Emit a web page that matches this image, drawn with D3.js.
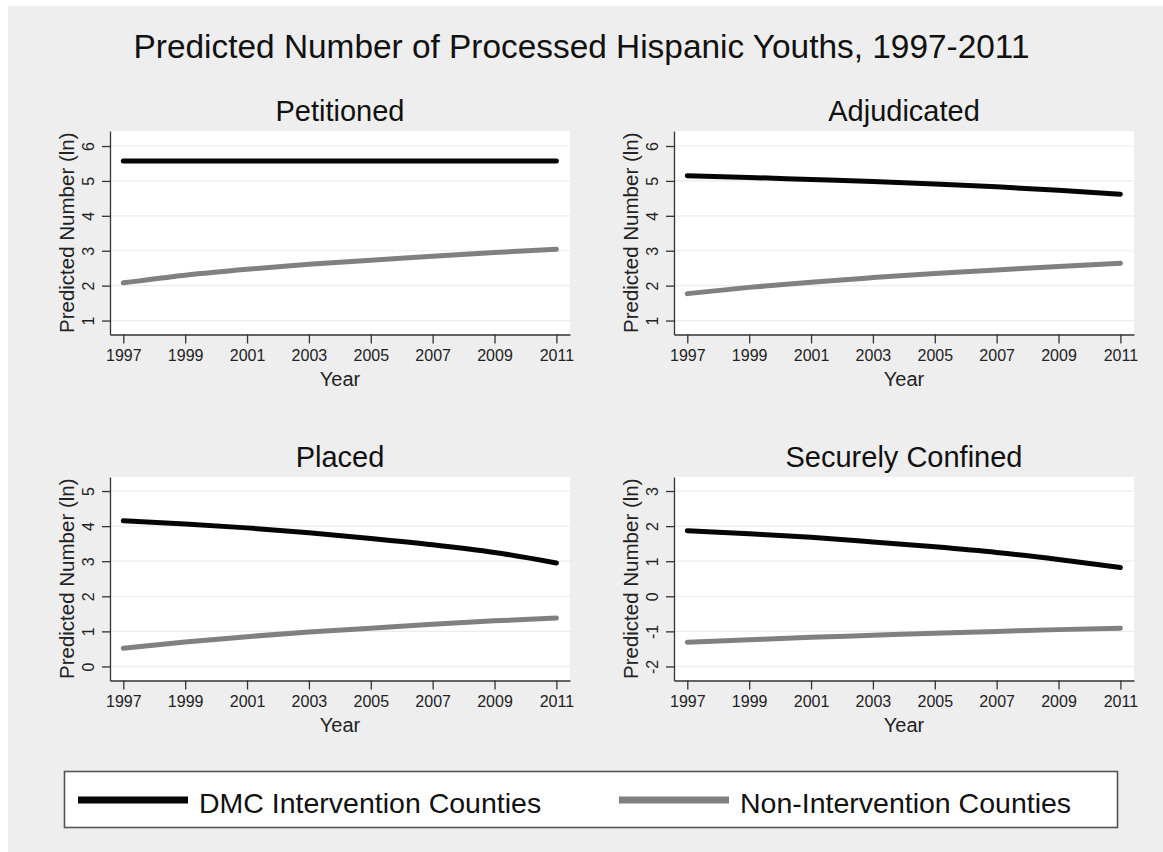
<!DOCTYPE html>
<html>
<head>
<meta charset="utf-8">
<script src="https://d3js.org/d3.v7.min.js"></script>
<style>
  body { margin: 0; background: #ffffff; }
  svg { display: block; font-family: "Liberation Sans", Arial, Helvetica, sans-serif; }
</style>
</head>
<body>
<svg width="1163" height="852"></svg>

<script>
// values (ln of predicted counts), every second year
var years = [1997, 1999, 2001, 2003, 2005, 2007, 2009, 2011];
var panelTitles = ["Petitioned", "Adjudicated", "Placed", "Securely Confined"];

var dmcPetitioned = [5.57, 5.57, 5.57, 5.57, 5.57, 5.57, 5.57, 5.57];
var nonPetitioned = [2.08, 2.30, 2.47, 2.61, 2.73, 2.84, 2.95, 3.04];
var dmcAdjudicated = [5.15, 5.10, 5.04, 4.98, 4.91, 4.83, 4.73, 4.62];
var nonAdjudicated = [1.77, 1.95, 2.10, 2.23, 2.35, 2.45, 2.55, 2.64];
var dmcPlaced = [4.15, 4.06, 3.95, 3.81, 3.65, 3.47, 3.25, 2.95];
var nonPlaced = [0.52, 0.70, 0.85, 0.98, 1.09, 1.20, 1.30, 1.38];
var dmcConfined = [1.87, 1.78, 1.68, 1.55, 1.41, 1.25, 1.05, 0.82];
var nonConfined = [-1.31, -1.24, -1.17, -1.11, -1.05, -1.00, -0.95, -0.91];

var yTicks = [[1, 2, 3, 4, 5, 6], [1, 2, 3, 4, 5, 6], [0, 1, 2, 3, 4, 5], [-2, -1, 0, 1, 2, 3]];
var yDomains = [[0.6, 6.43], [0.6, 6.43], [-0.4, 5.4], [-2.4, 3.4]];
var legendLabels = ["DMC Intervention Counties", "Non-Intervention Counties"];

var dmcSeries = [dmcPetitioned, dmcAdjudicated, dmcPlaced, dmcConfined];
var nonSeries = [nonPetitioned, nonAdjudicated, nonPlaced, nonConfined];
var seriesColors = ["#050505", "#808080"];

var svg = d3.select("svg");

// stata-like graph region
svg.append("rect")
  .attr("x", 8).attr("y", 6)
  .attr("width", 1155).attr("height", 846)
  .attr("fill", "#eeeeee");

svg.append("text")
  .attr("x", 581.5).attr("y", 58)
  .attr("text-anchor", "middle")
  .attr("font-size", 33.4)
  .attr("fill", "#111")
  .text("Predicted Number of Processed Hispanic Youths, 1997-2011");

var colLeft = [110, 674];
var rowTop = [131, 477];
var plotW = 460, plotH = 203.5;

var x = d3.scaleLinear().domain([1996.57, 2011.44]).range([0, plotW]);

panelTitles.forEach(function(title, i) {
  var g = svg.append("g")
    .attr("transform", "translate(" + colLeft[i % 2] + "," + rowTop[Math.floor(i / 2)] + ")");

  var y = d3.scaleLinear().domain(yDomains[i]).range([plotH, 0]);

  g.append("rect")
    .attr("width", plotW).attr("height", plotH)
    .attr("fill", "#ffffff");

  // faint gridlines
  g.selectAll(".grid")
    .data(yTicks[i])
    .enter().append("line")
    .attr("x1", 0).attr("x2", plotW)
    .attr("y1", function(d) { return y(d); })
    .attr("y2", function(d) { return y(d); })
    .attr("stroke", "#ececec")
    .attr("stroke-width", 1.2);

  var xAxis = g.append("g")
    .attr("transform", "translate(0," + plotH + ")")
    .call(d3.axisBottom(x).tickValues(years).tickSize(9).tickSizeOuter(0).tickPadding(6).tickFormat(String));

  var yAxis = g.append("g")
    .call(d3.axisLeft(y).tickValues(yTicks[i]).tickSize(8).tickSizeOuter(0).tickFormat(String));

  [xAxis, yAxis].forEach(function(ax) {
    ax.attr("font-family", null).attr("font-size", 16);
    ax.select(".domain").attr("stroke", "#333").attr("stroke-width", 1.3);
    ax.selectAll(".tick line").attr("stroke", "#333").attr("stroke-width", 1.3);
    ax.selectAll(".tick text").attr("fill", "#222");
  });

  // stata draws y labels turned on their side
  yAxis.selectAll(".tick text")
    .attr("x", 0).attr("y", 0).attr("dy", 0)
    .attr("text-anchor", "middle")
    .attr("transform", "translate(-16.5,0) rotate(-90)");

  g.append("text")
    .attr("x", plotW / 2).attr("y", plotH + 51)
    .attr("text-anchor", "middle")
    .attr("font-size", 20)
    .attr("fill", "#222")
    .text("Year");

  g.append("text")
    .attr("transform", "translate(-36," + (plotH / 2) + ") rotate(-90)")
    .attr("text-anchor", "middle")
    .attr("font-size", 20.5)
    .attr("fill", "#222")
    .text("Predicted Number (ln)");

  g.append("text")
    .attr("x", plotW / 2).attr("y", -10)
    .attr("text-anchor", "middle")
    .attr("font-size", 29)
    .attr("fill", "#111")
    .text(title);

  var line = d3.line()
    .x(function(d, k) { return x(years[k]); })
    .y(function(d) { return y(d); })
    .curve(d3.curveMonotoneX);

  [nonSeries[i], dmcSeries[i]].forEach(function(vals, s) {
    g.append("path")
      .datum(vals)
      .attr("d", line)
      .attr("fill", "none")
      .attr("stroke", s == 0 ? seriesColors[1] : seriesColors[0])
      .attr("stroke-width", 5)
      .attr("stroke-linecap", "round");
  });
});

// legend
var legend = svg.append("g");
legend.append("rect")
  .attr("x", 64.5).attr("y", 771.5)
  .attr("width", 1053).attr("height", 56)
  .attr("fill", "#ffffff")
  .attr("stroke", "#555")
  .attr("stroke-width", 1.6);

var keyStart = [78, 619];
legendLabels.forEach(function(lbl, i) {
  legend.append("line")
    .attr("x1", keyStart[i]).attr("x2", keyStart[i] + 110)
    .attr("y1", 800).attr("y2", 800)
    .attr("stroke", seriesColors[i])
    .attr("stroke-width", 7);
  legend.append("text")
    .attr("x", keyStart[i] + 121).attr("y", 813)
    .attr("font-size", 28.5)
    .attr("fill", "#111")
    .text(lbl);
});
</script>
</body>
</html>
